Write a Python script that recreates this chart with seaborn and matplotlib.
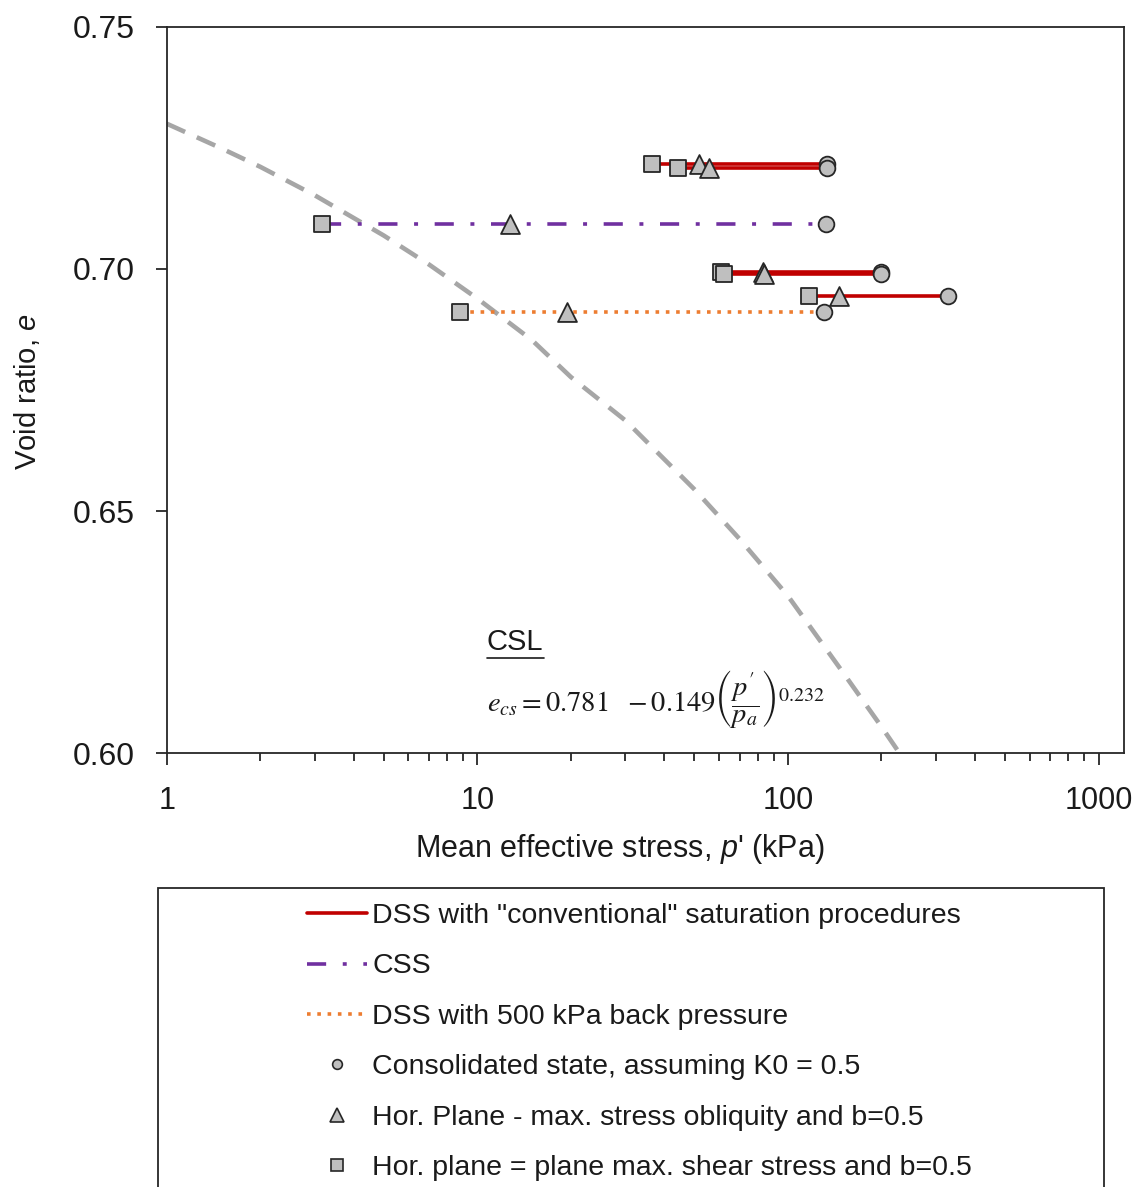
import numpy as np
import pandas as pd
import matplotlib
matplotlib.use("Agg")
import matplotlib.pyplot as plt
import seaborn as sns
from matplotlib.lines import Line2D
from matplotlib.patches import Rectangle
from matplotlib.ticker import FixedLocator, NullFormatter, FixedFormatter

# ---------------- data ----------------
test_ids = ["DSS-1", "DSS-2", "DSS-3", "DSS-4", "DSS-5", "CSS-1", "DSS-BP"]
test_groups = ["conv", "conv", "conv", "conv", "conv", "css", "bp"]
void_ratio = [0.7217, 0.7209, 0.6993, 0.6989, 0.6945, 0.7092, 0.6911]
p_consolidated = [133.3, 133.3, 199.4, 199.4, 328.4, 133.1, 130.9]   # circles
p_obliquity = [51.6, 55.7, 83.3, 83.9, 146.4, 12.7, 19.45]            # triangles
p_max_shear = [36.6, 44.4, 60.8, 62.3, 116.9, 3.16, 8.80]             # squares

csl_p = [1, 1.5, 2, 3, 5, 7, 10, 15, 20, 30, 50, 70, 100, 150, 200, 234]
csl_e = [0.7300, 0.7249, 0.7211, 0.7152, 0.7069, 0.7009, 0.6939, 0.6853,
         0.6777, 0.6687, 0.6545, 0.6442, 0.6325, 0.6168, 0.6055, 0.5991]

x_ticks = [1, 10, 100, 1000]
x_tick_labels = ["1", "10", "100", "1000"]
y_ticks = [0.60, 0.65, 0.70, 0.75]
y_tick_labels = ["0.60", "0.65", "0.70", "0.75"]

legend_labels = ['DSS with "conventional" saturation procedures', "CSS",
                 "DSS with 500 kPa back pressure",
                 "Consolidated state, assuming K0 = 0.5",
                 "Hor. Plane - max. stress obliquity and b=0.5",
                 "Hor. plane = plane max. shear stress and b=0.5"]

# ---------------- style ----------------
sns.set_theme(style="white")
plt.rcParams["font.family"] = ["Liberation Sans", "DejaVu Sans"]
plt.rcParams["mathtext.fontset"] = "custom"
plt.rcParams["mathtext.it"] = "Liberation Sans:italic"
plt.rcParams["mathtext.rm"] = "Liberation Sans"

RED = "#C00000"
PURPLE = "#7030A0"
ORANGE = "#ED7D31"
CSLGREY = "#A6A6A6"
MFACE = "#BFBFBF"
MEDGE = "#262626"

CSS_LS = (0, (5.3, 4.6, 1.1, 4.6))
BP_LS = (0, (1.0, 1.85))
group_style = {
    "conv": dict(color=RED, linewidth=2.6, linestyle="-"),
    "css": dict(color=PURPLE, linewidth=2.6, linestyle=CSS_LS),
    "bp": dict(color=ORANGE, linewidth=2.6, linestyle=BP_LS),
}

df = pd.DataFrame({"test": test_ids, "group": test_groups, "e": void_ratio,
                   "p_cons": p_consolidated, "p_obl": p_obliquity, "p_shear": p_max_shear})
lines_long = pd.concat([
    df[["test", "group", "e"]].assign(p=df["p_shear"]),
    df[["test", "group", "e"]].assign(p=df["p_cons"]),
])

W, H = 1141, 1187
fig = plt.figure(figsize=(W / 100, H / 100), dpi=100)
ax_l, ax_r, ax_t, ax_b = 166.7, 1124, 26.8, 753.3
ax = fig.add_axes([ax_l / W, 1 - ax_b / H, (ax_r - ax_l) / W, (ax_b - ax_t) / H])
ax.set_xscale("log")

# CSL
csl_df = pd.DataFrame({"p": csl_p, "e": csl_e})
sns.lineplot(data=csl_df, x="p", y="e", ax=ax, color=CSLGREY, linewidth=3.3,
             linestyle=(0, (4.4, 2.8)), sort=True, legend=False, zorder=1)

# test lines
for g in ["conv", "css", "bp"]:
    sub = lines_long[lines_long["group"] == g]
    sns.lineplot(data=sub, x="p", y="e", units="test", estimator=None, ax=ax,
                 legend=False, zorder=2, **group_style[g])

# markers
mk = dict(color=MFACE, edgecolor=MEDGE, linewidth=1.3, zorder=4, legend=False, ax=ax)
sns.scatterplot(data=df, x="p_shear", y="e", marker="s", s=118, **mk)
sns.scatterplot(data=df, x="p_obl", y="e", marker="^", s=185, **mk)
sns.scatterplot(data=df, x="p_cons", y="e", marker="o", s=128, **mk)

# axes
ax.set_xlim(1, 1208)
ax.set_ylim(0.60, 0.75)
ax.xaxis.set_major_locator(FixedLocator(x_ticks))
ax.xaxis.set_major_formatter(FixedFormatter(x_tick_labels))
minors = [m * 10 ** d for d in range(0, 3) for m in range(2, 10)]
ax.xaxis.set_minor_locator(FixedLocator(minors))
ax.xaxis.set_minor_formatter(NullFormatter())
ax.yaxis.set_major_locator(FixedLocator(y_ticks))
ax.yaxis.set_major_formatter(FixedFormatter(y_tick_labels))

for s in ax.spines.values():
    s.set_visible(True)
    s.set_color(MEDGE)
    s.set_linewidth(1.3)

ax.tick_params(axis="x", which="major", direction="out", length=8.6, width=1.3,
               color=MEDGE, pad=15, labelsize=22, bottom=True, labelcolor="#1a1a1a")
ax.tick_params(axis="x", which="minor", direction="out", length=5.8, width=1.3,
               color=MEDGE, bottom=True)
ax.tick_params(axis="y", which="major", direction="out", length=7.7, width=1.3,
               color=MEDGE, pad=15, labelsize=23, left=True, labelcolor="#1a1a1a")

ax.set_xlabel("Mean effective stress, $p$' (kPa)", fontsize=22, color="#1a1a1a")
ax.xaxis.set_label_coords((620 - ax_l) / (ax_r - ax_l), (ax_b - 849) / (ax_b - ax_t))
ax.xaxis.label.set_va("center")
ax.set_ylabel("Void ratio, $e$", fontsize=21, color="#1a1a1a")
ax.yaxis.set_label_coords((27 - ax_l) / (ax_r - ax_l), (ax_b - 392) / (ax_b - ax_t))
ax.yaxis.label.set_va("center")

# CSL annotation
t_csl = fig.text(487 / W, 1 - 642 / H, "CSL", fontsize=21, ha="left", va="center",
                 color="#1a1a1a")
fig.text(487 / W, 1 - 699 / H,
         r"$e_{cs}=0.781\ \ -0.149\left(\dfrac{p^{\prime}}{p_a}\right)^{0.232}$",
         fontsize=20.5, ha="left", va="center", color="#1a1a1a", math_fontfamily="stix")
fig.canvas.draw()
bb = t_csl.get_window_extent(fig.canvas.get_renderer())
fig.add_artist(Line2D([bb.x0 / W, bb.x1 / W], [(bb.y0 - 2) / H, (bb.y0 - 2) / H],
                      color="#1a1a1a", lw=1.2, transform=fig.transFigure))

# legend box
fig.add_artist(Rectangle((158 / W, 1 - 1200 / H), (1104 - 158) / W, (1200 - 888) / H,
                         transform=fig.transFigure, fill=False, edgecolor=MEDGE, lw=1.3))

handles = [
    Line2D([], [], color=RED, lw=2.6),
    Line2D([], [], color=PURPLE, lw=2.6, linestyle=CSS_LS),
    Line2D([], [], color=ORANGE, lw=2.6, linestyle=BP_LS),
    Line2D([], [], ls="none", marker="o", ms=7, mfc=MFACE, mec=MEDGE, mew=1.2),
    Line2D([], [], ls="none", marker="^", ms=9.5, mfc=MFACE, mec=MEDGE, mew=1.2),
    Line2D([], [], ls="none", marker="s", ms=8, mfc=MFACE, mec=MEDGE, mew=1.2),
]
fig.legend(handles, legend_labels, loc="upper left",
           bbox_to_anchor=(307 / W, 1 - 903 / H), frameon=False, fontsize=20.5,
           handlelength=2.1, handletextpad=0.2, labelspacing=0.86,
           borderpad=0, borderaxespad=0, labelcolor="#1a1a1a")

fig.savefig("out.png", dpi=100)
